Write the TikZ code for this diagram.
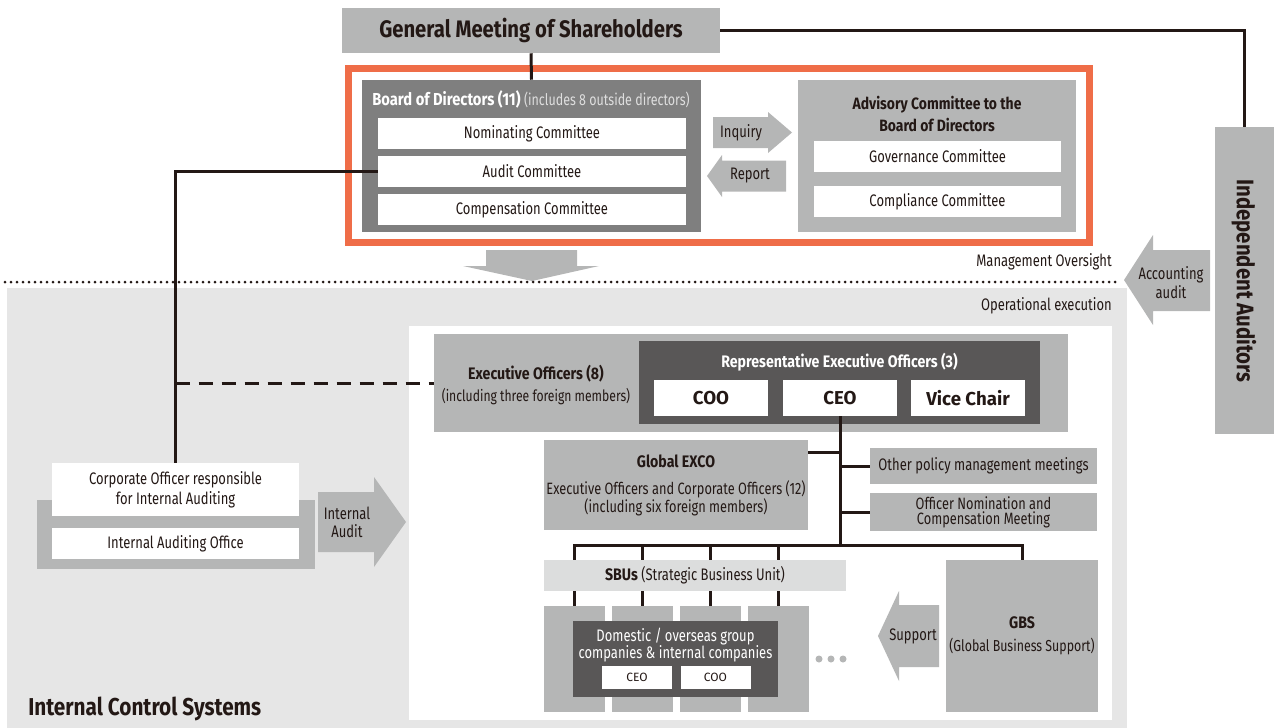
\documentclass[tikz,border=0pt]{standalone}
\usepackage{fontspec}
\setmainfont{Fira Sans}[UprightFeatures={FakeStretch=0.78}, BoldFeatures={FakeStretch=0.85}]
\newfontfamily\widesans{Fira Sans}
\usetikzlibrary{positioning}

\definecolor{txt}{RGB}{35,24,21}
\definecolor{midgray}{RGB}{181,182,182}
\definecolor{boardgray}{RGB}{127,127,127}
\definecolor{repgray}{RGB}{89,87,87}
\definecolor{lightbg}{RGB}{230,230,230}
\definecolor{sbugray}{RGB}{220,221,221}
\definecolor{subwhite}{RGB}{222,222,222}
\definecolor{frameorange}{RGB}{239,109,72}

\newcommand{\fsz}[2]{\fontsize{#1}{#2}\selectfont}

\begin{document}
\begin{tikzpicture}[x=0.75pt,y=0.75pt,yscale=-1,xscale=1,
    every node/.style={inner sep=0pt, align=center, text=txt, font=\fsz{12.5}{16}},
    graybox/.style={fill=midgray},
    whitebox/.style={fill=white},
    darkbox/.style={fill=repgray, text=white},
    link/.style={draw=txt, line width=2.25pt}
  ]
    \useasboundingbox (0,0) rectangle (1274,728);

    % Areas
    \fill[lightbg] (7,288) rectangle (1127,728);
    \fill[white] (409,326) rectangle (1112,720);

    % General meeting
    \node[graybox, minimum width=283.5pt, minimum height=33.75pt, font=\bfseries\fsz{17.9}{20}] (gm) at (531,30.5) {General Meeting of Shareholders};

    % Orange frame
    \draw[frameorange, line width=5.25pt] (348.5,68.5) rectangle (1089.5,242);

    % Board of directors
    \node[fill=boardgray, minimum width=254.25pt, minimum height=114pt] (board) at (531.5,156) {};
    \node[text=white] (boardtitle) at (531,99) {{\fsz{13}{14}\bfseries Board of Directors (11)} {\fsz{12}{14}\color{subwhite}(includes 8 outside directors)}};
    \node[whitebox, minimum width=231pt, minimum height=23.25pt] (nominating) at (532,133.5) {Nominating Committee};
    \node[whitebox, minimum width=231pt, minimum height=23.25pt] (audit) at (532,171.5) {Audit Committee};
    \node[whitebox, minimum width=231pt, minimum height=23.25pt] (compensation) at (532,209.5) {Compensation Committee};

    % Inquiry / Report
    \fill[midgray] (713,117) -- (768,117) -- (768,112) -- (792,132.5) -- (768,153) -- (768,148) -- (713,148) -- cycle;
    \node (inquiry) at (741,132.5) {Inquiry};
    \fill[midgray] (786,160.5) -- (722,160.5) -- (722,155) -- (707,176) -- (722,197) -- (722,191.5) -- (786,191.5) -- cycle;
    \node (report) at (750,176) {Report};

    % Advisory committee
    \node[graybox, minimum width=208.5pt, minimum height=114pt] (advisory) at (937,156) {};
    \node[font=\bfseries\fsz{12.3}{16.5}] (advtitle) at (937,114) {Advisory Committee to the\\Board of Directors};
    \node[whitebox, minimum width=185.25pt, minimum height=23.25pt] (governance) at (937.5,156.5) {Governance Committee};
    \node[whitebox, minimum width=185.25pt, minimum height=23.25pt] (compliance) at (937.5,201.5) {Compliance Committee};

    % Independent auditors
    \node[graybox, minimum width=44.25pt, minimum height=230.25pt] (indep) at (1244.5,280.5) {};
    \node[rotate=-90, font=\bfseries\fsz{18}{19}] (indeptext) at (1244,281) {Independent Auditors};
    \fill[midgray] (1210,250) -- (1153,250) -- (1153,235) -- (1124,280) -- (1153,325) -- (1153,311) -- (1210,311) -- cycle;
    \node[font=\fsz{12.5}{14.25}] (accounting) at (1171,283) {Accounting\\audit};

    % Oversight / execution
    \fill[midgray] (486,250) -- (577,250) -- (577,266) -- (599,266) -- (532,281) -- (463,266) -- (486,266) -- cycle;
    \draw[txt, line width=2.25pt, line cap=round, dash pattern=on 0pt off 4.5pt] (5,282) -- (1120,282);
    \node[anchor=east, font=\fsz{12.5}{13}] (oversight) at (1112,262) {Management Oversight};
    \node[anchor=east, font=\fsz{12.5}{13}] (execution) at (1112,306) {Operational execution};

    % Executive officers
    \node[graybox, minimum width=475.5pt, minimum height=73.5pt] (exec) at (751,383) {};
    \node[font=\fsz{11.7}{16.5}] (exectext) at (536,385) {{\fsz{12.5}{16.5}\bfseries Executive Officers (8)}\\(including three foreign members)};
    \node[darkbox, minimum width=300.75pt, minimum height=62.25pt] (rep) at (839.5,382.5) {};
    \node[text=white, font=\bfseries\fsz{12.5}{14}] (reptitle) at (839.5,362) {Representative Executive Officers (3)};
    \node[whitebox, minimum width=85.5pt, minimum height=27pt, font=\widesans\bfseries\fsz{14}{15}] (coo) at (711,398) {COO};
    \node[whitebox, minimum width=85.5pt, minimum height=27pt, font=\widesans\bfseries\fsz{14}{15}] (ceo) at (840,398) {CEO};
    \node[whitebox, minimum width=85.5pt, minimum height=27pt, font=\widesans\bfseries\fsz{14}{15}] (vicechair) at (968,398) {Vice Chair};

    % Meetings
    \node[graybox, minimum width=198pt, minimum height=67.5pt, font=\fsz{12.3}{13.5}] (exco) at (676,485) {{\fsz{12.5}{13.5}\bfseries Global EXCO}\\[6.75pt]Executive Officers and Corporate Officers (12)\\(including six foreign members)};
    \node[graybox, minimum width=170.25pt, minimum height=27pt] (policy) at (983.5,466) {Other policy management meetings};
    \node[graybox, minimum width=170.25pt, minimum height=28.5pt, font=\fsz{12.3}{11.25}] (offnom) at (983.5,512) {Officer Nomination and\\Compensation Meeting};

    % SBUs
    \node[fill=sbugray, minimum width=226.5pt, minimum height=23.25pt] (sbu) at (695,575.5) {\textbf{SBUs} (Strategic Business Unit)};
    \node[graybox, minimum width=45.75pt, minimum height=79.5pt] (col1) at (574.5,659) {};
    \node[graybox, minimum width=45.75pt, minimum height=79.5pt] (col2) at (642.5,659) {};
    \node[graybox, minimum width=45.75pt, minimum height=79.5pt] (col3) at (710.5,659) {};
    \node[graybox, minimum width=45.75pt, minimum height=79.5pt] (col4) at (778.5,659) {};
    \node[darkbox, minimum width=153.75pt, minimum height=57pt] (group) at (675.5,659) {};
    \node[text=white, font=\fsz{12.5}{12}] (grouptext) at (675.5,645) {Domestic / overseas group\\companies \& internal companies};
    \node[whitebox, minimum width=52.5pt, minimum height=17.25pt, font=\widesans\fsz{9}{10}] (groupceo) at (637,677.5) {CEO};
    \node[whitebox, minimum width=52.5pt, minimum height=17.25pt, font=\widesans\fsz{9}{10}] (groupcoo) at (715.5,677.5) {COO};
    \fill[midgray] (819,659) circle (3.5) (831,659) circle (3.5) (843,659) circle (3.5);

    % GBS
    \node[graybox, minimum width=114pt, minimum height=114pt, font=\fsz{11.9}{17.25}] (gbs) at (1022,636) {{\fsz{12.5}{17.25}\bfseries GBS}\\(Global Business Support)};
    \fill[midgray] (939,605) -- (899,605) -- (899,591) -- (878,636) -- (899,681) -- (899,667) -- (939,667) -- cycle;
    \node (support) at (913,636) {Support};

    % Internal audit
    \node[graybox, minimum width=208.5pt, minimum height=51.75pt] (auditframe) at (176,534.5) {};
    \node[whitebox, minimum width=185.25pt, minimum height=39.75pt, font=\fsz{12.5}{15}] (corp) at (175.5,489.5) {Corporate Officer responsible\\for Internal Auditing};
    \node[whitebox, minimum width=185.25pt, minimum height=23.25pt, font=\fsz{12.5}{15}] (auditoffice) at (175.5,543.5) {Internal Auditing Office};
    \fill[midgray] (318,492) -- (374,492) -- (374,477) -- (406,522) -- (374,567) -- (374,552) -- (318,552) -- cycle;
    \node[font=\fsz{12.5}{13.5}] (internalaudit) at (347,522) {Internal\\Audit};

    \node[anchor=base west, font=\bfseries\fsz{18.3}{20}] (ics) at (28,715) {Internal Control Systems};

    % Connectors
    \draw[link] (gm.south) -- (board.north);
    \draw[link] (gm.east) -| (indep.north);
    \draw[link] (audit.west) -| (corp.north);
    \draw[link, dash pattern=on 10.5pt off 6.75pt] (corp.north |- exec.west) -- (exec.west);
    \coordinate (bus) at (840,545);
    \coordinate (excojoin) at (840,452);
    \draw[link] (ceo.south) -- (bus);
    \draw[link] (excojoin -| exco.east) -- (excojoin);
    \draw[link] (bus |- policy.west) -- (policy.west);
    \draw[link] (bus |- offnom.west) -- (offnom.west);
    \draw[link] (col1.north |- sbu.north) |- (bus) -| (gbs.north);
    \draw[link] (col2.north |- bus) -- (col2.north |- sbu.north);
    \draw[link] (col3.north |- bus) -- (col3.north |- sbu.north);
    \draw[link] (col4.north |- bus) -- (col4.north |- sbu.north);
    \draw[link] (col1.north |- sbu.south) -- (col1.north);
    \draw[link] (col2.north |- sbu.south) -- (col2.north);
    \draw[link] (col3.north |- sbu.south) -- (col3.north);
    \draw[link] (col4.north |- sbu.south) -- (col4.north);

\end{tikzpicture}
\end{document}
